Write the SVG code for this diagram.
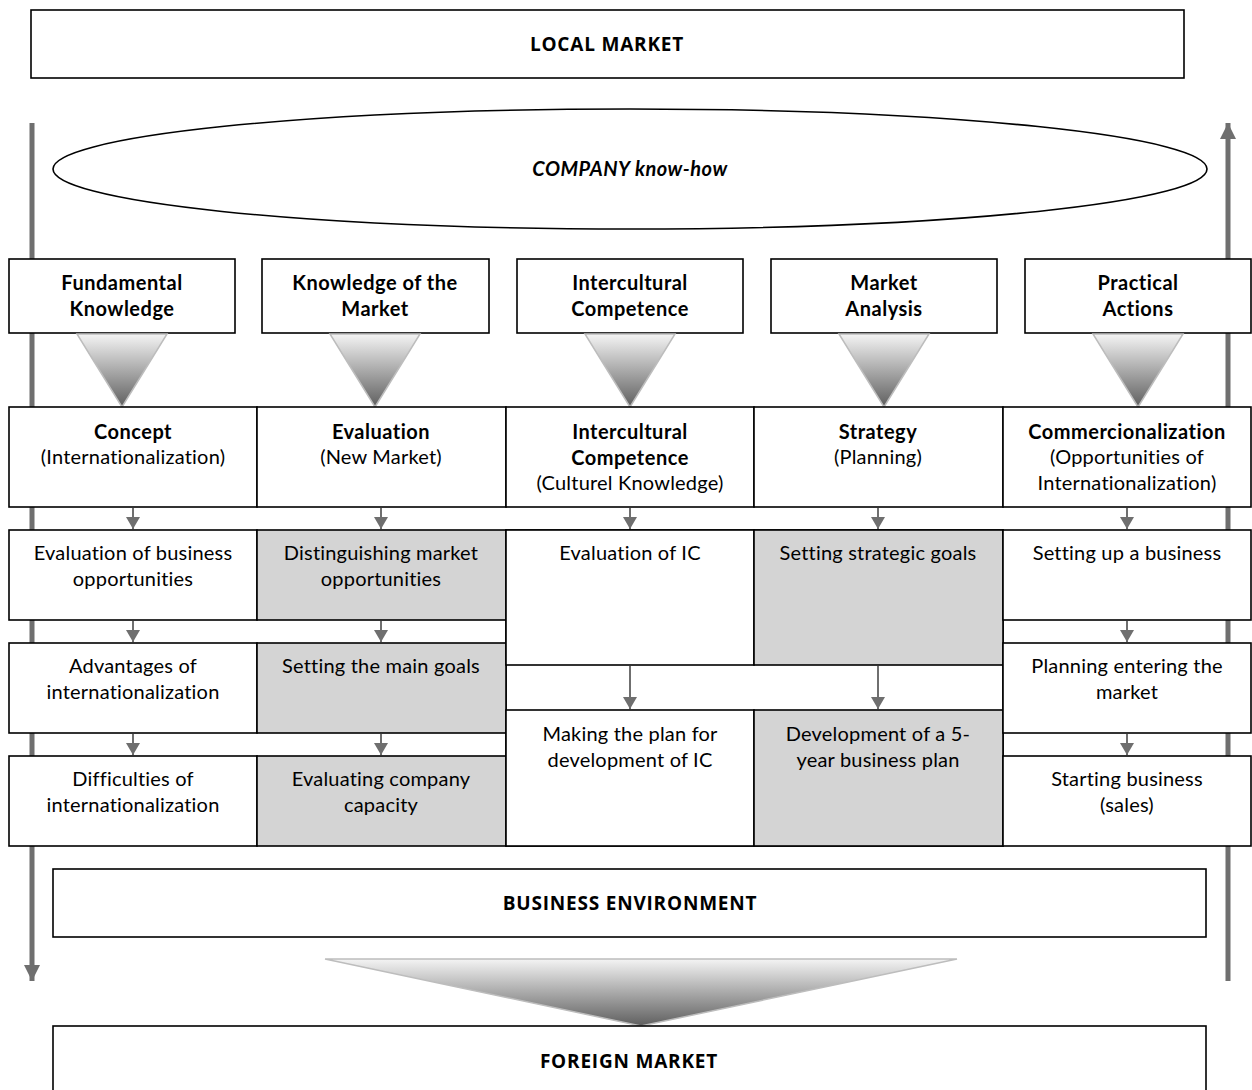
<svg xmlns="http://www.w3.org/2000/svg" width="1252" height="1090" viewBox="0 0 1252 1090">
<style>
.box{fill:#fff;stroke:#000;stroke-width:1.6}
.g{fill:#d4d4d4;stroke:#000;stroke-width:1.6}
.t{font-family:Lato,"Liberation Sans",sans-serif;font-size:20px;letter-spacing:0.2px;fill:#000;text-anchor:middle}
.b{font-weight:bold;letter-spacing:0.5px}
.cap{font-family:"Open Sans","Liberation Sans",sans-serif;font-size:19px;font-weight:bold;letter-spacing:0.8px;fill:#000;text-anchor:middle}
.ar{stroke:#6f6f6f;stroke-width:2;fill:none}
.tri{fill:url(#grad);stroke:#bdbdbd;stroke-width:1.5}
</style>
<defs>
<linearGradient id="grad" x1="0" y1="0" x2="0" y2="1">
<stop offset="0" stop-color="#f4f4f4"/>
<stop offset="1" stop-color="#5f5f5f"/>
</linearGradient>
<marker id="ah" viewBox="0 0 12 14" refX="12" refY="7" markerWidth="12" markerHeight="14" orient="auto" markerUnits="userSpaceOnUse">
<path d="M0,0 L12,7 L0,14 Z" fill="#6f6f6f"/>
</marker>
<marker id="bh" viewBox="0 0 10 10" refX="10" refY="5" markerWidth="3.2" markerHeight="3.2" orient="auto">
<path d="M0,0 L10,5 L0,10 Z" fill="#6f6f6f"/>
</marker>
</defs>

<g id="side-arrows">
<line x1="32" y1="123" x2="32" y2="981" stroke="#6f6f6f" stroke-width="5" marker-end="url(#bh)"/>
<line x1="1228" y1="981" x2="1228" y2="123" stroke="#6f6f6f" stroke-width="5" marker-end="url(#bh)"/>
</g>

<g id="local-market">
<rect class="box" x="31" y="10" width="1153" height="68"/>
<text class="cap" x="607" y="51">LOCAL MARKET</text>
</g>

<g id="company-know-how">
<ellipse cx="630" cy="169" rx="577" ry="60" fill="#fff" stroke="#000" stroke-width="1.6"/>
<text class="t b" x="630" y="176" font-style="italic">COMPANY know-how</text>
</g>

<g id="top-boxes">
<g id="fundamental"><rect class="box" x="9" y="259" width="226" height="74"/><text class="t b" x="122" y="290">Fundamental</text><text class="t b" x="122" y="316">Knowledge</text></g>
<g id="knowledge-market"><rect class="box" x="262" y="259" width="227" height="74"/><text class="t b" x="375" y="290">Knowledge of the</text><text class="t b" x="375" y="316">Market</text></g>
<g id="intercultural-top"><rect class="box" x="517" y="259" width="226" height="74"/><text class="t b" x="630" y="290">Intercultural</text><text class="t b" x="630" y="316">Competence</text></g>
<g id="market-analysis"><rect class="box" x="771" y="259" width="226" height="74"/><text class="t b" x="884" y="290">Market</text><text class="t b" x="884" y="316">Analysis</text></g>
<g id="practical"><rect class="box" x="1025" y="259" width="226" height="74"/><text class="t b" x="1138" y="290">Practical</text><text class="t b" x="1138" y="316">Actions</text></g>
</g>

<g id="funnels">
<polygon class="tri" points="77,334 167,334 122,407"/>
<polygon class="tri" points="330,334 420,334 375,407"/>
<polygon class="tri" points="585,334 675,334 630,407"/>
<polygon class="tri" points="839,334 929,334 884,407"/>
<polygon class="tri" points="1093,334 1183,334 1138,407"/>
</g>

<g id="row2">
<g id="concept"><rect class="box" x="9" y="407" width="248" height="100"/><text class="t b" x="133" y="439">Concept</text><text class="t" x="133" y="464">(Internationalization)</text></g>
<g id="evaluation"><rect class="box" x="257" y="407" width="249" height="100"/><text class="t b" x="381" y="439">Evaluation</text><text class="t" x="381" y="464">(New Market)</text></g>
<g id="intercultural"><rect class="box" x="506" y="407" width="248" height="100"/><text class="t b" x="630" y="439">Intercultural</text><text class="t b" x="630" y="465">Competence</text><text class="t" x="630" y="490">(Culturel Knowledge)</text></g>
<g id="strategy"><rect class="box" x="754" y="407" width="249" height="100"/><text class="t b" x="878" y="439">Strategy</text><text class="t" x="878" y="464">(Planning)</text></g>
<g id="commercionalization"><rect class="box" x="1003" y="407" width="248" height="100"/><text class="t b" x="1127" y="439">Commercionalization</text><text class="t" x="1127" y="464">(Opportunities of</text><text class="t" x="1127" y="490">Internationalization)</text></g>
</g>

<g id="middle-frame"><rect class="box" x="506" y="530" width="497" height="316"/></g>

<g id="col1">
<g id="eval-business"><rect class="box" x="9" y="530" width="248" height="90"/><text class="t" x="133" y="560">Evaluation of business</text><text class="t" x="133" y="586">opportunities</text></g>
<g id="advantages"><rect class="box" x="9" y="643" width="248" height="90"/><text class="t" x="133" y="673">Advantages of</text><text class="t" x="133" y="699">internationalization</text></g>
<g id="difficulties"><rect class="box" x="9" y="756" width="248" height="90"/><text class="t" x="133" y="786">Difficulties of</text><text class="t" x="133" y="812">internationalization</text></g>
</g>

<g id="col2">
<g id="distinguishing"><rect class="g" x="257" y="530" width="249" height="90"/><text class="t" x="381" y="560">Distinguishing market</text><text class="t" x="381" y="586">opportunities</text></g>
<g id="main-goals"><rect class="g" x="257" y="643" width="249" height="90"/><text class="t" x="381" y="673">Setting the main goals</text></g>
<g id="capacity"><rect class="g" x="257" y="756" width="249" height="90"/><text class="t" x="381" y="786">Evaluating company</text><text class="t" x="381" y="812">capacity</text></g>
</g>

<g id="col3">
<g id="eval-ic"><rect class="box" x="506" y="530" width="248" height="135"/><text class="t" x="630" y="560">Evaluation of IC</text></g>
<g id="plan-ic"><rect class="box" x="506" y="710" width="248" height="136"/><text class="t" x="630" y="741">Making the plan for</text><text class="t" x="630" y="767">development of IC</text></g>
</g>

<g id="col4">
<g id="strategic-goals"><rect class="g" x="754" y="530" width="249" height="135"/><text class="t" x="878" y="560">Setting strategic goals</text></g>
<g id="five-year"><rect class="g" x="754" y="710" width="249" height="136"/><text class="t" x="878" y="741">Development of a 5-</text><text class="t" x="878" y="767">year business plan</text></g>
</g>

<g id="col5">
<g id="setting-up"><rect class="box" x="1003" y="530" width="248" height="90"/><text class="t" x="1127" y="560">Setting up a business</text></g>
<g id="planning-entering"><rect class="box" x="1003" y="643" width="248" height="90"/><text class="t" x="1127" y="673">Planning entering the</text><text class="t" x="1127" y="699">market</text></g>
<g id="starting"><rect class="box" x="1003" y="756" width="248" height="90"/><text class="t" x="1127" y="786">Starting business</text><text class="t" x="1127" y="812">(sales)</text></g>
</g>

<g id="connectors">
<line class="ar" x1="133" y1="508" x2="133" y2="529" marker-end="url(#ah)"/>
<line class="ar" x1="381" y1="508" x2="381" y2="529" marker-end="url(#ah)"/>
<line class="ar" x1="630" y1="508" x2="630" y2="529" marker-end="url(#ah)"/>
<line class="ar" x1="878" y1="508" x2="878" y2="529" marker-end="url(#ah)"/>
<line class="ar" x1="1127" y1="508" x2="1127" y2="529" marker-end="url(#ah)"/>
<line class="ar" x1="133" y1="621" x2="133" y2="642" marker-end="url(#ah)"/>
<line class="ar" x1="381" y1="621" x2="381" y2="642" marker-end="url(#ah)"/>
<line class="ar" x1="1127" y1="621" x2="1127" y2="642" marker-end="url(#ah)"/>
<line class="ar" x1="133" y1="734" x2="133" y2="755" marker-end="url(#ah)"/>
<line class="ar" x1="381" y1="734" x2="381" y2="755" marker-end="url(#ah)"/>
<line class="ar" x1="1127" y1="734" x2="1127" y2="755" marker-end="url(#ah)"/>
<line class="ar" x1="630" y1="666" x2="630" y2="709" marker-end="url(#ah)"/>
<line class="ar" x1="878" y1="666" x2="878" y2="709" marker-end="url(#ah)"/>
</g>

<g id="business-environment">
<rect class="box" x="53" y="869" width="1153" height="68"/>
<text class="cap" x="630" y="910">BUSINESS ENVIRONMENT</text>
</g>

<g id="big-funnel">
<polygon class="tri" points="325,959 957,959 641,1026"/>
</g>

<g id="foreign-market">
<rect class="box" x="53" y="1026" width="1153" height="70"/>
<text class="cap" x="629" y="1068">FOREIGN MARKET</text>
</g>
</svg>
